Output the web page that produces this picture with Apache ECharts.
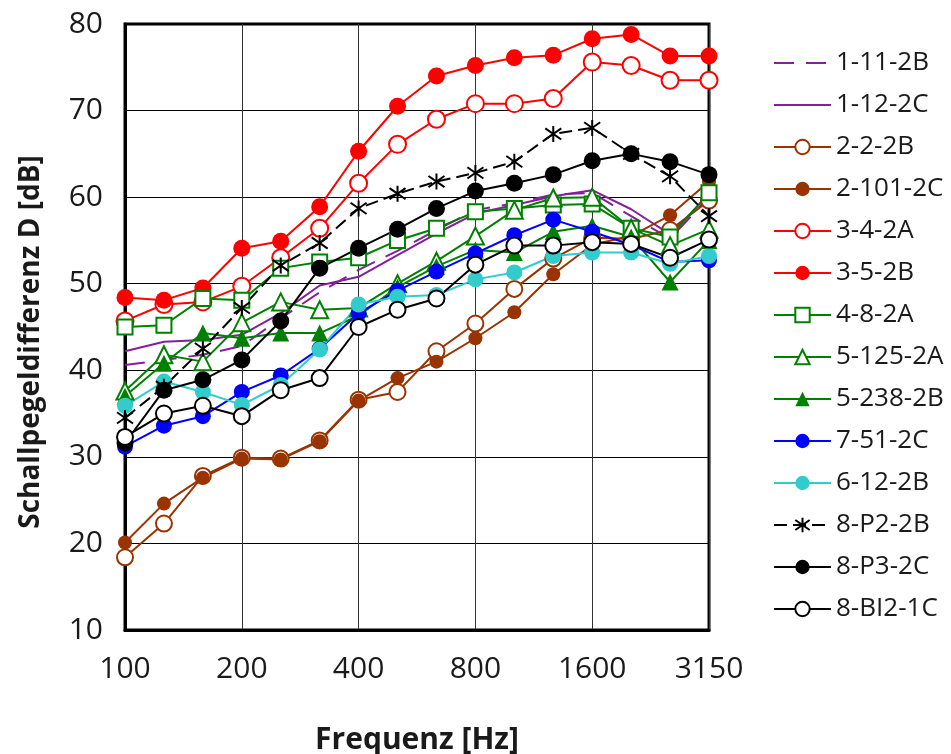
<!DOCTYPE html>
<html>
<head>
<meta charset="utf-8">
<script src="https://cdn.jsdelivr.net/npm/echarts@6/dist/echarts.min.js"></script>
<style>
html,body{margin:0;padding:0;background:#fff;}
#chart{width:951px;height:754px;}
</style>
</head>
<body>
<div id="chart"></div>
<script>
const categories = ['100','125','160','200','250','315','400','500','630','800','1000','1250','1600','2000','2500','3150'];

const s_1_11_2B = [40.6, 41.2, 41.8, 42.8, 46.0, 49.0, 51.6, 53.8, 56.2, 58.5, 59.3, 60.3, 60.5, 57.8, 55.2, 60.0];
const s_1_12_2C = [42.2, 43.3, 43.5, 44.1, 46.6, 49.8, 50.8, 53.3, 55.8, 58.1, 59.1, 60.1, 60.8, 58.6, 55.7, 60.3];
const s_2_2_2B = [18.4, 22.3, 27.8, 29.9, 29.8, 31.9, 36.6, 37.5, 42.2, 45.4, 49.4, 52.9, 55.3, 55.2, 56.2, 59.6];
const s_2_101_2C = [20.1, 24.6, 27.6, 29.8, 29.7, 31.8, 36.5, 39.1, 41.0, 43.7, 46.7, 51.1, 54.5, 55.5, 57.9, 61.8];
const s_3_4_2A = [45.7, 47.6, 47.9, 49.7, 53.0, 56.4, 61.6, 66.1, 69.0, 70.8, 70.8, 71.4, 75.6, 75.2, 73.5, 73.5];
const s_3_5_2B = [48.4, 48.1, 49.5, 54.1, 54.9, 58.9, 65.3, 70.5, 74.0, 75.2, 76.1, 76.4, 78.3, 78.8, 76.3, 76.3];
const s_4_8_2A = [45.0, 45.2, 48.3, 48.1, 51.8, 52.5, 53.0, 55.0, 56.4, 58.3, 58.7, 59.1, 59.2, 56.4, 55.4, 60.5];
const s_5_125_2A = [37.6, 41.8, 41.0, 45.5, 47.9, 47.0, 47.2, 50.0, 52.6, 55.5, 58.5, 59.9, 60.0, 56.4, 54.4, 56.3];
const s_5_238_2B = [37.0, 40.8, 44.3, 43.7, 44.3, 44.3, 46.3, 49.6, 52.0, 53.9, 53.6, 56.0, 56.7, 55.4, 50.2, 55.0];
const s_7_51_2C = [31.2, 33.6, 34.7, 37.5, 39.4, 42.5, 46.6, 49.2, 51.4, 53.5, 55.6, 57.4, 56.0, 54.5, 52.5, 52.7];
const s_6_12_2B = [35.9, 38.7, 37.5, 36.0, 38.3, 42.4, 47.6, 48.5, 48.7, 50.5, 51.3, 53.2, 53.6, 53.6, 52.3, 53.2];
const s_8_P2_2B = [34.5, 38.1, 42.5, 47.2, 52.1, 54.7, 58.7, 60.4, 61.8, 62.8, 64.1, 67.3, 68.0, 65.0, 62.4, 57.8];
const s_8_P3_2C = [31.6, 37.7, 38.9, 41.2, 45.7, 51.8, 54.1, 56.3, 58.7, 60.7, 61.6, 62.6, 64.2, 65.0, 64.1, 62.6];
const s_8_BI2_1C = [32.3, 35.0, 35.9, 34.7, 37.7, 39.1, 45.0, 47.0, 48.3, 52.2, 54.4, 54.4, 54.8, 54.6, 53.0, 55.1];

const yTicks = {min: 10, max: 80, step: 10};

const FONT = '"Open Sans", "Noto Sans", sans-serif';
const PURPLE = '#84209a', BROWN = '#993300', RED = '#ff0000', GREEN = '#008000',
      BLUE = '#0000ff', CYAN = '#33cccc', BLACK = '#000000';
const ASTERISK = 'path://M10,0L10,20M2,3L18,17M18,3L2,17';

function mk(name, data, color, opts) {
  opts = opts || {};
  const noSym = opts.symbol === undefined;
  return {
    name: name, type: 'line', data: data,
    symbol: noSym ? 'none' : opts.symbol,
    symbolSize: opts.size || 15,
    showSymbol: !noSym,
    lineStyle: {color: color, width: 2, type: opts.dash || 'solid'},
    itemStyle: {
      color: opts.fill === undefined ? color : opts.fill,
      borderColor: color,
      borderWidth: opts.bw === undefined ? 2 : opts.bw,
      opacity: noSym ? 0 : 1
    },
    emphasis: {disabled: true},
    animation: false
  };
}

const series = [
  mk('1-11-2B', s_1_11_2B, PURPLE, {dash: [20, 12]}),
  mk('1-12-2C', s_1_12_2C, PURPLE, {}),
  mk('2-2-2B', s_2_2_2B, BROWN, {symbol: 'circle', fill: '#ffffff', size: 16}),
  mk('2-101-2C', s_2_101_2C, BROWN, {symbol: 'circle', size: 14, bw: 0}),
  mk('3-4-2A', s_3_4_2A, RED, {symbol: 'circle', fill: '#ffffff', size: 17}),
  mk('3-5-2B', s_3_5_2B, RED, {symbol: 'circle', size: 17, bw: 0}),
  mk('4-8-2A', s_4_8_2A, GREEN, {symbol: 'rect', fill: '#ffffff', size: 15}),
  mk('5-125-2A', s_5_125_2A, GREEN, {symbol: 'triangle', fill: '#ffffff', size: 17}),
  mk('5-238-2B', s_5_238_2B, GREEN, {symbol: 'triangle', size: 17, bw: 0}),
  mk('7-51-2C', s_7_51_2C, BLUE, {symbol: 'circle', size: 16, bw: 0}),
  mk('6-12-2B', s_6_12_2B, CYAN, {symbol: 'circle', size: 16, bw: 0}),
  mk('8-P2-2B', s_8_P2_2B, BLACK, {symbol: ASTERISK, fill: 'rgba(0,0,0,0)', size: 16, dash: [13, 6]}),
  mk('8-P3-2C', s_8_P3_2C, BLACK, {symbol: 'circle', size: 17, bw: 0}),
  mk('8-BI2-1C', s_8_BI2_1C, BLACK, {symbol: 'circle', fill: '#ffffff', size: 16})
];

const legendData = series.map(s => s.symbol === 'none'
  ? {name: s.name, itemStyle: {opacity: 0}}
  : {name: s.name});

const chart = echarts.init(document.getElementById('chart'), null, {renderer: 'canvas'});
chart.setOption({
  animation: false,
  textStyle: {fontFamily: FONT},
  grid: {left: 125, right: 242, top: 24, bottom: 124, show: true, borderColor: '#000', borderWidth: 3,
         backgroundColor: 'transparent', outerBoundsMode: 'none', containLabel: false},
  legend: {
    orient: 'vertical', left: 768, top: 45,
    itemWidth: 57, itemHeight: 18, itemGap: 16,
    textStyle: {fontSize: 26, lineHeight: 26, color: '#1a1a1a', fontFamily: FONT},
    data: legendData
  },
  xAxis: {
    type: 'category', data: categories, boundaryGap: false,
    axisLine: {lineStyle: {color: '#000', width: 3}},
    axisTick: {show: false},
    axisLabel: {interval: 2, fontSize: 30, margin: 24, color: '#1a1a1a', fontFamily: FONT},
    splitLine: {show: true, interval: 2, lineStyle: {color: '#333', width: 1}},
    name: 'Frequenz [Hz]', nameLocation: 'middle', nameGap: 95,
    nameTextStyle: {fontSize: 30, fontWeight: 'bold', color: '#1a1a1a', fontFamily: FONT}
  },
  yAxis: {
    type: 'value', min: yTicks.min, max: yTicks.max, interval: yTicks.step,
    axisLine: {show: true, lineStyle: {color: '#000', width: 3}},
    axisTick: {show: false},
    axisLabel: {fontSize: 30, margin: 22, color: '#1a1a1a', fontFamily: FONT},
    splitLine: {show: true, lineStyle: {color: '#000', width: 1}},
    name: 'Schallpegeldifferenz D [dB]', nameLocation: 'middle', nameGap: 80, nameRotate: 90,
    nameTextStyle: {fontSize: 28, fontWeight: 'bold', color: '#1a1a1a', fontFamily: FONT, padding: [0, 30, 0, 0]}
  },
  series: series
});
</script>
</body>
</html>
